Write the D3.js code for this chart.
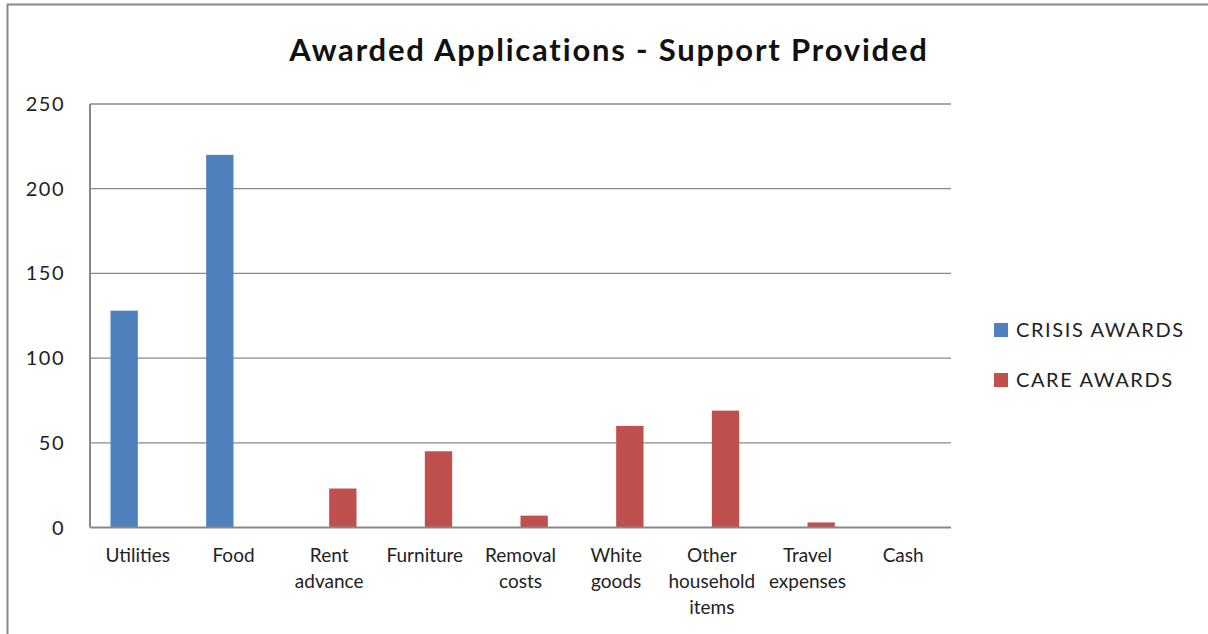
<!DOCTYPE html>
<html>
<head>
<meta charset="utf-8">
<script src="https://cdn.jsdelivr.net/npm/d3@7"></script>
<style>
  body { margin: 0; background: #fff; }
  svg { display: block; }
</style>
</head>
<body>
<script>
// data
const categories = ["Utilities", "Food", "Rent advance", "Furniture", "Removal costs",
                    "White goods", "Other household items", "Travel expenses", "Cash"];
const labelLines = [["Utilities"], ["Food"], ["Rent", "advance"], ["Furniture"], ["Removal", "costs"],
                    ["White", "goods"], ["Other", "household", "items"], ["Travel", "expenses"], ["Cash"]];
const seriesNames = ["CRISIS AWARDS", "CARE AWARDS"];
const crisisAwards = [128, 220, 0, 0, 0, 0, 0, 0, 0];
const careAwards = [0, 0, 23, 45, 7, 60, 69, 3, 0];
const yTicks = [0, 50, 100, 150, 200, 250];
const colors = ["#4f81bd", "#c0504d"];

const W = 1208, H = 634;
const font = "Lato, 'Open Sans', sans-serif";

let svg = d3.select("body").append("svg")
    .attr("width", W)
    .attr("height", H);

// outer frame
svg.append("rect")
    .attr("x", 7.5).attr("y", 4.5)
    .attr("width", W + 20).attr("height", H + 20)
    .attr("fill", "#fff")
    .attr("stroke", "#888")
    .attr("stroke-width", 2);

// title
svg.append("text")
    .attr("x", 609).attr("y", 61)
    .attr("text-anchor", "middle")
    .style("font-family", font)
    .style("font-size", "31px")
    .style("font-weight", "bold")
    .style("letter-spacing", "1.8px")
    .style("fill", "#111")
    .text("Awarded Applications - Support Provided");

const pLeft = 90, pRight = 951, pTop = 104, pBottom = 527.5;

const y = d3.scaleLinear()
    .domain([0, 250])
    .range([pBottom, pTop]);

const x0 = d3.scaleBand()
    .domain(categories)
    .range([pLeft, pRight]);

const bw = x0.bandwidth();
const gap = bw * 0.75 / 3.5;
const x1 = d3.scaleBand()
    .domain(seriesNames)
    .range([gap, bw - gap]);

// gridlines
svg.append("g")
    .selectAll("line")
    .data(yTicks.filter(d => d > 0))
    .join("line")
    .attr("x1", pLeft).attr("x2", pRight)
    .attr("y1", d => y(d)).attr("y2", d => y(d))
    .attr("stroke", "#888")
    .attr("stroke-width", 1.3);

// y tick labels
svg.append("g")
    .selectAll("text")
    .data(yTicks)
    .join("text")
    .attr("x", 65)
    .attr("y", d => y(d) + 7)
    .attr("text-anchor", "end")
    .style("font-family", font)
    .style("font-size", "20px")
    .style("letter-spacing", "1.5px")
    .style("fill", "#222")
    .text(d => d);

// bars
const rows = categories.map((c, i) => ({cat: c, vals: [crisisAwards[i], careAwards[i]]}));

let groups = svg.append("g")
    .selectAll("g")
    .data(rows)
    .join("g")
    .attr("transform", d => `translate(${x0(d.cat)},0)`);

groups.selectAll("rect")
    .data(d => d.vals.map((v, j) => ({name: seriesNames[j], v: v, j: j})))
    .join("rect")
    .attr("x", d => x1(d.name))
    .attr("width", x1.bandwidth())
    .attr("y", d => y(d.v))
    .attr("height", d => pBottom - y(d.v))
    .attr("fill", d => colors[d.j]);

// axes lines
svg.append("line")
    .attr("x1", pLeft).attr("x2", pRight)
    .attr("y1", pBottom).attr("y2", pBottom)
    .attr("stroke", "#888").attr("stroke-width", 2);
svg.append("line")
    .attr("x1", pLeft).attr("x2", pLeft)
    .attr("y1", pTop).attr("y2", pBottom)
    .attr("stroke", "#888").attr("stroke-width", 2);

// x labels
let xl = svg.append("g")
    .selectAll("text")
    .data(categories)
    .join("text")
    .attr("text-anchor", "middle")
    .style("font-family", font)
    .style("font-size", "19px")
    .style("fill", "#222");

xl.selectAll("tspan")
    .data((d, i) => labelLines[i].map(t => ({t: t, c: d})))
    .join("tspan")
    .attr("x", d => x0(d.c) + bw / 2)
    .attr("y", (d, k) => 562 + k * 26)
    .text(d => d.t);

// legend
let lg = svg.append("g")
    .selectAll("g")
    .data(seriesNames)
    .join("g")
    .attr("transform", (d, i) => `translate(994,${323 + i * 50})`);

lg.append("rect")
    .attr("width", 14).attr("height", 14)
    .attr("fill", (d, i) => colors[i]);

lg.append("text")
    .attr("x", 22).attr("y", 14)
    .style("font-family", font)
    .style("font-size", "20px")
    .style("letter-spacing", "1.6px")
    .style("fill", "#222")
    .text(d => d);
</script>
</body>
</html>
